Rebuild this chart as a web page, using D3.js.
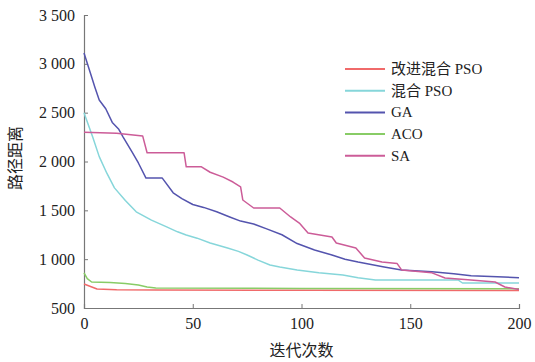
<!DOCTYPE html>
<html>
<head>
<meta charset="utf-8">
<script src="https://cdn.jsdelivr.net/npm/d3@7"></script>
<style>
  body { margin: 0; background: #fff; }
  text { font-family: "Liberation Serif", "Noto Sans CJK SC", serif; fill: #222; }
</style>
</head>
<body>
<svg id="chart"></svg>
<script>
// series data: [iteration, distance]
const improvedPso = [[0, 745], [3, 720], [6, 695], [15, 688], [33, 685], [100, 682], [200, 680]];
const hybridPso = [[0, 2500], [4, 2250], [7, 2050], [10.5, 1880], [14, 1730], [19, 1600], [24, 1485],
  [31, 1400], [38, 1330], [43, 1280], [47, 1247], [52, 1215], [58, 1165], [66, 1114], [71, 1080],
  [75, 1043], [80, 990], [85.5, 940], [90, 920], [98, 890], [108, 860], [119, 838], [126, 810],
  [134, 787], [152, 787], [172, 787], [174, 756], [200, 756]];
const ga = [[0, 3110], [3, 2900], [5, 2760], [7, 2630], [10, 2540], [13, 2400], [16, 2330], [18, 2250],
  [22, 2100], [25, 1985], [28.5, 1830], [36, 1830], [41, 1680], [45, 1620], [50, 1560], [55, 1530],
  [61, 1485], [67, 1432], [72, 1390], [78, 1360], [84, 1310], [91, 1250], [98, 1160], [106, 1094],
  [114, 1043], [120, 1000], [126, 970], [132, 945], [138, 920], [146, 890], [160, 870], [170, 850],
  [178, 830], [190, 820], [200, 810]];
const aco = [[0, 860], [1.5, 800], [3.5, 766], [12, 760], [19, 750], [25, 735], [29, 715], [33, 705],
  [100, 700], [200, 698]];
const sa = [[0, 2300], [15, 2290], [27, 2260], [29, 2090], [46, 2090], [47, 1945], [54, 1945],
  [58, 1890], [64, 1840], [68.5, 1790], [72, 1740], [73, 1606], [78, 1524], [90, 1524], [95, 1432],
  [99, 1370], [103, 1268], [114, 1227], [116, 1165], [125, 1114], [129, 1012], [137, 970],
  [144, 955], [146, 890], [160, 860], [166, 807], [176.5, 790], [189, 766], [193.5, 715], [200, 690]];

const seriesNames = ["改进混合 PSO", "混合 PSO", "GA", "ACO", "SA"];
const seriesData = [improvedPso, hybridPso, ga, aco, sa];
const seriesColors = ["#f06a6a", "#86d6da", "#5454ae", "#88cc66", "#cc5c98"];

const xTicks = [0, 50, 100, 150, 200];
const yTicks = [500, 1000, 1500, 2000, 2500, 3000, 3500];
const xTitle = "迭代次数";
const yTitle = "路径距离";

const svgWidth = 535, svgHeight = 362;
const margin = { top: 15, right: 16, bottom: 54, left: 84 };
const width = svgWidth - margin.left - margin.right;
const height = svgHeight - margin.top - margin.bottom;

const svg = d3.select("#chart")
  .attr("width", svgWidth)
  .attr("height", svgHeight);

const g = svg.append("g")
  .attr("transform", "translate(" + margin.left + "," + margin.top + ")");

const x = d3.scaleLinear().domain([0, 200]).range([0, width]);
const y = d3.scaleLinear().domain([500, 3500]).range([height, 0]);

const fmt = d => d3.format(",")(d).replace(",", " ");

const xAxis = g.append("g")
  .attr("transform", "translate(0," + height + ")")
  .call(d3.axisBottom(x).tickValues(xTicks).tickSize(-4).tickPadding(10));
const yAxis = g.append("g")
  .call(d3.axisLeft(y).tickValues(yTicks).tickSize(-4).tickPadding(9).tickFormat(fmt));

[xAxis, yAxis].forEach(a => {
  a.select(".domain").attr("stroke", "#777").attr("stroke-width", 1.2);
  a.selectAll(".tick line").attr("stroke", "#777");
  a.selectAll(".tick text").attr("font-size", 16).attr("fill", "#222")
    .style("font-family", "'Liberation Serif', serif");
});

const line = d3.line()
  .x(d => x(d[0]))
  .y(d => y(d[1]));

seriesData.forEach((s, i) => {
  g.append("path")
    .datum(s)
    .attr("fill", "none")
    .attr("stroke", seriesColors[i])
    .attr("stroke-width", 1.5)
    .attr("stroke-linejoin", "round")
    .attr("d", line);
});

// legend
const legend = svg.append("g").attr("transform", "translate(345,69)");
seriesNames.forEach((name, i) => {
  const row = legend.append("g").attr("transform", "translate(0," + (i * 21.7) + ")");
  row.append("line")
    .attr("x1", 0).attr("x2", 40)
    .attr("stroke", seriesColors[i])
    .attr("stroke-width", 2);
  row.append("text")
    .attr("x", 46).attr("y", 5)
    .attr("font-size", 15)
    .text(name);
});

// axis titles
svg.append("text")
  .attr("x", margin.left + width / 2)
  .attr("y", 356)
  .attr("text-anchor", "middle")
  .attr("font-size", 16)
  .text(xTitle);

svg.append("text")
  .attr("transform", "translate(21,158) rotate(-90)")
  .attr("text-anchor", "middle")
  .attr("font-size", 16)
  .text(yTitle);
</script>
</body>
</html>
